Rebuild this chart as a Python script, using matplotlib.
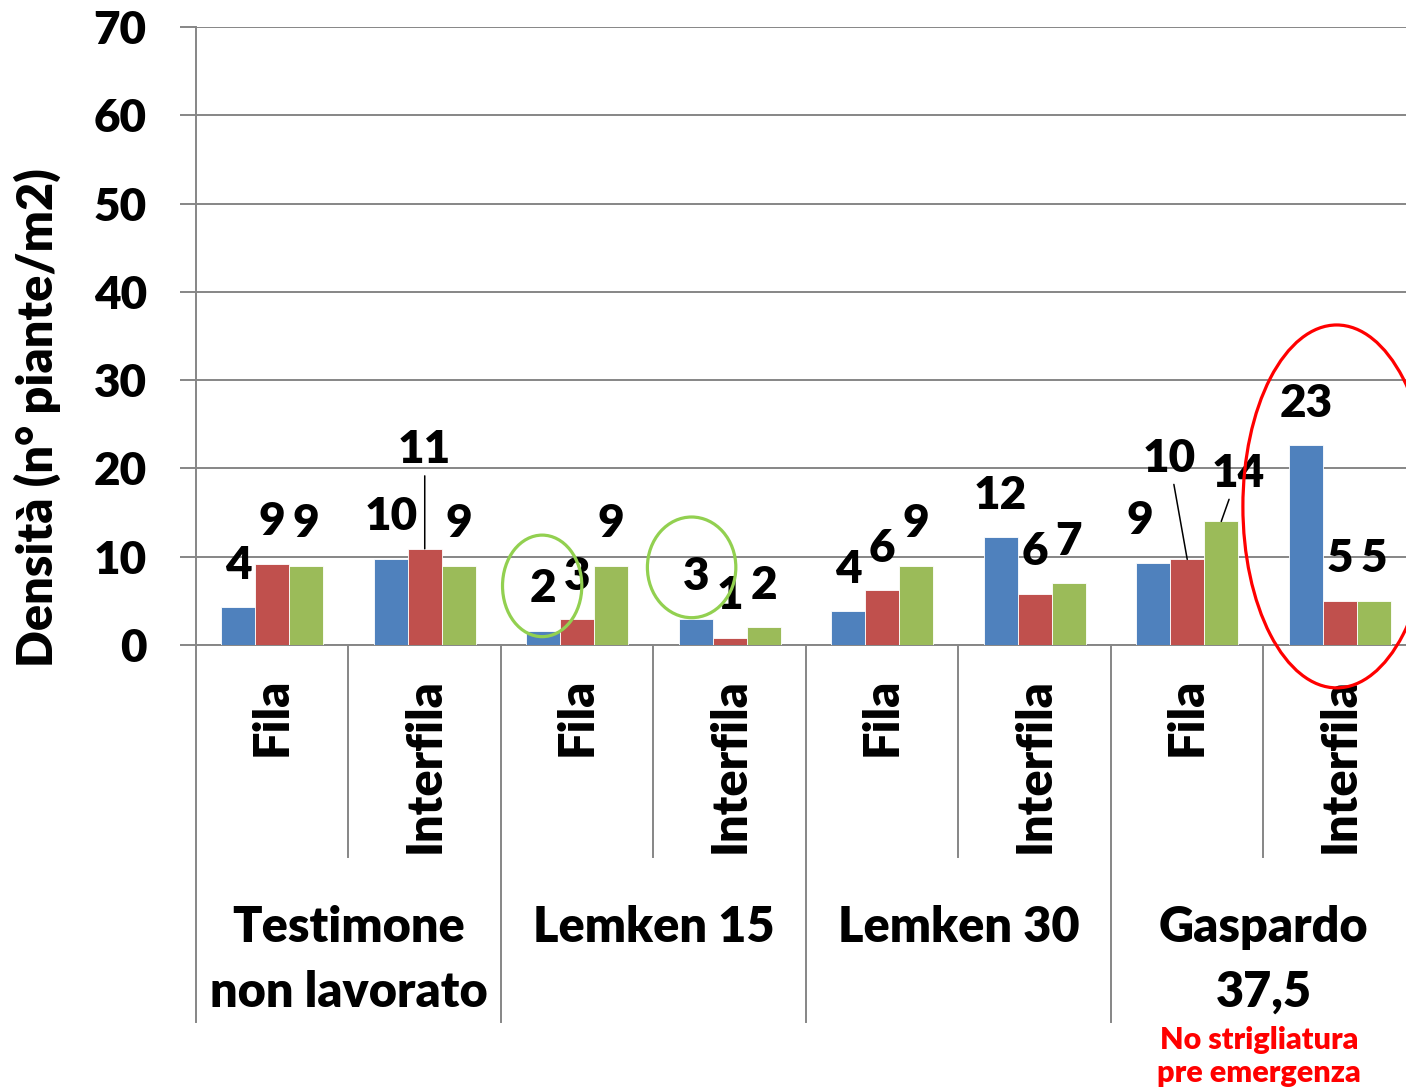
import numpy as np
import matplotlib.pyplot as plt
import matplotlib.transforms as mtransforms
from matplotlib.patches import Ellipse

plt.rcParams['font.family'] = ['Lato', 'DejaVu Sans']
plt.rcParams['font.weight'] = 'heavy'
peso = 'heavy'

gruppi = ['Testimone\nnon lavorato', 'Lemken 15', 'Lemken 30', 'Gaspardo\n37,5']
posizioni = ['Fila', 'Interfila']
serie_blu = [4.3, 9.8, 1.6, 3.0, 3.8, 12.2, 9.3, 22.6]
serie_rossa = [9.2, 10.9, 3.0, 0.8, 6.2, 5.8, 9.7, 5.0]
serie_verde = [9.0, 9.0, 9.0, 2.0, 9.0, 7.0, 14.0, 5.0]
nota = 'No strigliatura\npre emergenza'
colori = ['#4F81BD', '#C0504D', '#9BBB59']
grigio = '#868686'

fig = plt.figure(figsize=(14.06, 10.92), dpi=100)
ax = fig.add_axes([0.1394, 0.4093, 0.8677, 0.5660])

x = np.arange(len(serie_blu))
w = 0.223
serie = [serie_blu, serie_rossa, serie_verde]
for k, vals in enumerate(serie):
    ax.bar(x + (k - 1) * w, vals, w, color=colori[k], edgecolor='white',
           linewidth=0.6, zorder=3)

# etichette dei valori: spostamenti (px) come nel grafico originale
spost = {(1, 1): (0, 99, True), (0, 6): (-13, 42, False),
         (1, 6): (-18, 101, True), (2, 6): (17, 48, True)}
px = 72 / 100
for k, vals in enumerate(serie):
    for i, v in enumerate(vals):
        dx, dy, linea = spost.get((k, i), (0, 42, False))
        ap = dict(arrowstyle='-', color='black', lw=1.1, shrinkA=2, shrinkB=0) if linea else None
        ax.annotate(f'{v:.0f}', (x[i] + (k - 1) * w, v), xytext=(dx * px, dy * px),
                    textcoords='offset points', ha='center', va='center',
                    fontsize=33, fontweight=peso, arrowprops=ap, zorder=5,
                    annotation_clip=False)

ax.set_xlim(-0.5, 7.5)
ax.set_ylim(0, 70)
ax.set_yticks(range(0, 80, 10))
ax.yaxis.grid(True, color=grigio, linewidth=1.4, zorder=0)
ax.tick_params(axis='y', length=11.5, width=1.4, color=grigio, pad=24, labelsize=33)
ax.tick_params(axis='x', length=0, labelbottom=False)
for s in ['top', 'right']:
    ax.spines[s].set_visible(False)
for s in ['left', 'bottom']:
    ax.spines[s].set_color(grigio)
    ax.spines[s].set_linewidth(1.4)

tr = mtransforms.blended_transform_factory(ax.transData, ax.transAxes)
for b in range(len(x) + 1):
    fondo = -0.61 if b % 2 == 0 else -0.343
    ax.plot([b - 0.5, b - 0.5], [0, fondo], transform=tr, color=grigio,
            lw=1.4, clip_on=False)
for i in x:
    ax.text(i, -0.053, posizioni[i % 2], transform=tr, rotation=90,
            ha='center', va='top', fontsize=35, fontweight=peso)
# nomi dei gruppi, una riga alla volta (65 px tra le righe)
riga = 65 / 618
for g, nome in enumerate(gruppi):
    for j, testo in enumerate(nome.split('\n')):
        ax.text(2 * g + 0.5, -0.4806 - j * riga, testo, transform=tr,
                ha='center', va='baseline', fontsize=35, fontweight=peso)

# cerchi di evidenziazione
ax.add_patch(Ellipse((1.77, 6.7), 0.52, 11.5, fill=False, edgecolor='#92D050',
                     lw=2.3, zorder=6, clip_on=False))
ax.add_patch(Ellipse((2.75, 8.8), 0.58, 11.4, fill=False, edgecolor='#92D050',
                     lw=2.3, zorder=6, clip_on=False))
ax.add_patch(Ellipse((6.98, 15.7), 1.23, 41.1, fill=False, edgecolor='#FF0000',
                     lw=2.3, zorder=6, clip_on=False))

fig.text(37 / 1406, 1 - 418 / 1092, 'Densità (n° piante/m2)', rotation=90,
         ha='center', va='center', fontsize=35, fontweight=peso)
for j, testo in enumerate(nota.split('\n')):
    fig.text(1259 / 1406, 1 - (1049 + 33 * j) / 1092, testo, ha='center',
             va='baseline', fontsize=22, fontweight=peso, color='#FF0000')

fig.savefig('out.png', dpi=100)
